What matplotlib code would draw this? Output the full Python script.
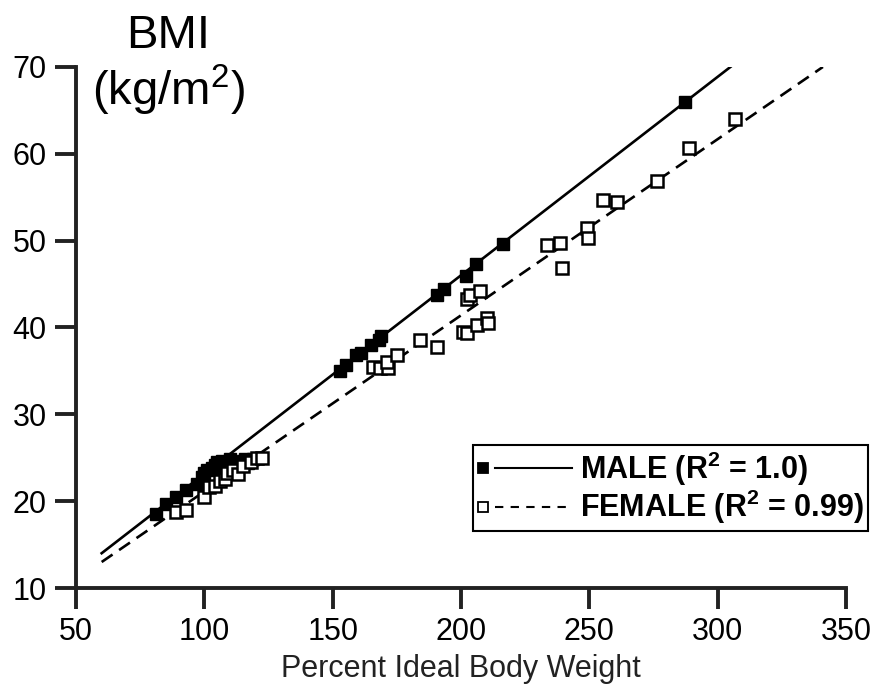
import matplotlib
matplotlib.use("Agg")
import matplotlib.pyplot as plt
import numpy as np
from matplotlib.lines import Line2D
from matplotlib.legend_handler import HandlerBase

plt.rcParams["font.family"] = ["Liberation Sans", "DejaVu Sans"]
plt.rcParams["mathtext.fontset"] = "custom"
plt.rcParams["mathtext.rm"] = "Liberation Sans"
plt.rcParams["mathtext.bf"] = "Liberation Sans:bold"

# Percent ideal body weight vs BMI
male_pibw = [81, 85, 89, 93, 97, 99, 100, 101, 103, 104, 105, 107, 108, 110, 112, 114,
             115, 116, 117, 119, 153, 155, 159, 161, 165, 168, 169, 190.6, 193.4, 202,
             205.8, 216.3, 287.2]
male_bmi = [18.5, 19.7, 20.5, 21.3, 22.0, 22.8, 23.3, 23.6, 23.8, 24.2, 24.5, 24.6, 24.0,
            24.8, 24.3, 24.2, 24.6, 24.8, 24.4, 24.8, 35.0, 35.7, 36.8, 37.1, 38.0, 38.6,
            39.0, 43.8, 44.4, 45.9, 47.3, 49.6, 66.0]

female_pibw = [89, 93, 100, 102, 104, 106, 108, 109, 111, 113, 115, 118, 120.5, 122.5,
               165.7, 168.4, 171.5, 171.2, 175, 184, 190.6, 200.8, 202.3, 206.2, 210.1,
               210.5, 202.3, 203.5, 207.4, 233.5, 238.5, 239.3, 249, 249.5, 255.3, 260.8,
               276.3, 288.8, 306.7]
female_bmi = [18.8, 19.0, 20.5, 21.6, 21.8, 22.3, 22.6, 23.3, 23.6, 23.1, 24.0, 24.5, 25.0,
              25.0, 35.5, 35.3, 35.3, 36.0, 36.8, 38.6, 37.8, 39.5, 39.4, 40.3, 41.1, 40.5,
              43.3, 43.8, 44.2, 49.5, 49.7, 46.9, 51.5, 50.3, 54.7, 54.4, 56.9, 60.7, 64.0]

# linear fits: slope, intercept, x range drawn
male_fit = (0.2286, 0.29, 60, 305)
female_fit = (0.2029, 0.82, 60, 341)

male_label = r"MALE (R$^{\mathbf{2}}$ = 1.0)"
female_label = r"FEMALE (R$^{\mathbf{2}}$ = 0.99)"


class MarkerLineHandler(HandlerBase):
    """Legend entry: small square marker, then a line segment."""

    def __init__(self, dashes=None):
        super().__init__()
        self.dashes = dashes

    def create_artists(self, legend, orig_handle, xdescent, ydescent,
                       width, height, fontsize, trans):
        pts, fit = orig_handle
        y = height / 2 - ydescent
        x0 = -xdescent
        mk = Line2D([x0 + 0.06 * width], [y])
        mk.update_from(pts)
        mk.set_markersize(7.5)
        mk.set_markeredgewidth(1.3)
        ln = Line2D([x0 + 0.19 * width, x0 + width], [y, y])
        ln.update_from(fit)
        ln.set_marker("none")
        ln.set_linewidth(1.5)
        if self.dashes is not None:
            ln.set_dashes(self.dashes)
        mk.set_transform(trans)
        ln.set_transform(trans)
        return [ln, mk]


fig = plt.figure(figsize=(8.77, 6.98), dpi=100)
ax = fig.add_axes([76 / 877, 1 - 588 / 698, 770 / 877, 521 / 698])

fits = {}
for name, (m, b, x0, x1) in {"male": male_fit, "female": female_fit}.items():
    xs = np.array([x0, x1])
    style = "-" if name == "male" else (0, (5, 3))
    fits[name], = ax.plot(xs, m * xs + b, color="black", lw=1.9, linestyle=style, zorder=2)

male_pts, = ax.plot(male_pibw, male_bmi, linestyle="none", marker="s", markersize=9,
                    markerfacecolor="black", markeredgecolor="black", zorder=3)
female_pts, = ax.plot(female_pibw, female_bmi, linestyle="none", marker="s", markersize=9,
                      markerfacecolor="white", markeredgecolor="black",
                      markeredgewidth=1.8, zorder=4)

ax.set_xlim(50, 350)
ax.set_ylim(10, 70)
ax.set_xticks(np.arange(50, 351, 50))
ax.set_yticks(np.arange(10, 71, 10))
ax.spines["top"].set_visible(False)
ax.spines["right"].set_visible(False)
for s in ("left", "bottom"):
    ax.spines[s].set_linewidth(2.8)
    ax.spines[s].set_color("#222222")
ax.tick_params(direction="out", length=15, width=2.8, labelsize=22, pad=6, color="#222222")

ax.set_xlabel("Percent Ideal Body Weight", fontsize=22, labelpad=5, color="#222222")

fig.text(168 / 877, 1 - 36 / 698, "BMI", fontsize=34, ha="center", va="center")
fig.text(168 / 877, 1 - 90 / 698, r"(kg/m$^{2}$)", fontsize=34, ha="center", va="center")

leg = ax.legend([(male_pts, fits["male"]), (female_pts, fits["female"])],
                [male_label, female_label],
                handler_map={(male_pts, fits["male"]): MarkerLineHandler(),
                             (female_pts, fits["female"]): MarkerLineHandler(dashes=(4, 3.5))},
                loc="lower right", bbox_to_anchor=(868 / 877, 1 - 531 / 698),
                bbox_transform=fig.transFigure, borderaxespad=0,
                prop={"weight": "bold", "size": 22}, fancybox=False, framealpha=1,
                edgecolor="black", borderpad=0.15, labelspacing=0.02,
                handlelength=3.1, handletextpad=0.25)
leg.get_frame().set_linewidth(1.5)

fig.savefig("out.png", dpi=100)
